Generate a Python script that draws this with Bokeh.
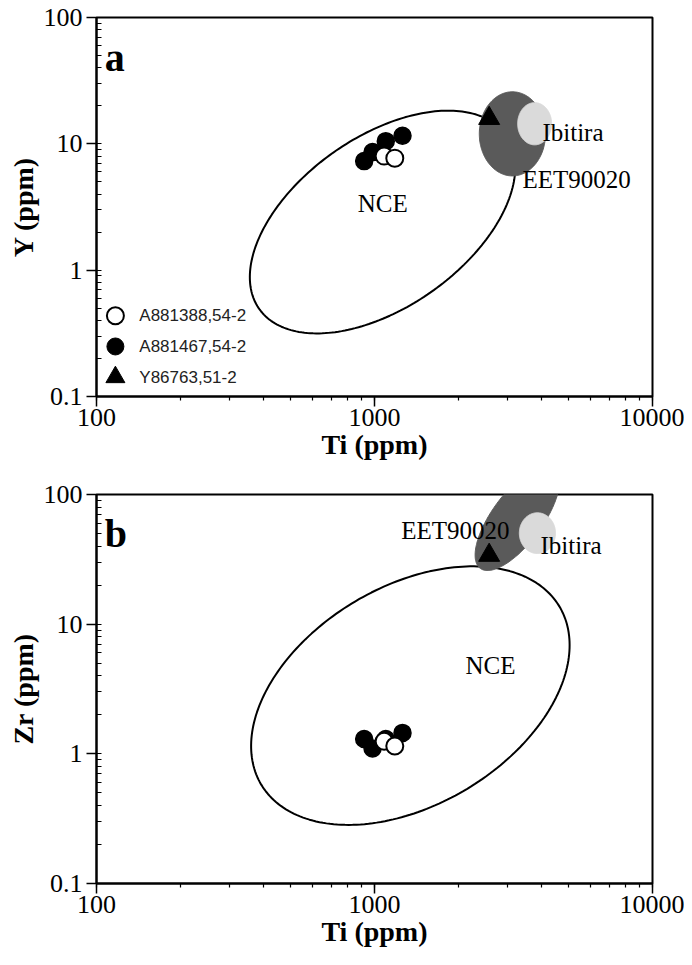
import numpy as np
from bokeh.plotting import figure
from bokeh.layouts import column
from bokeh.models import Label, CustomJSTickFormatter, Range1d, LinearScale
from bokeh.core.properties import value
from bokeh.embed import file_html
from bokeh.resources import INLINE

# ---------------- data ----------------
ti_A881388 = [1083, 1183]
ti_A881467 = [918, 984, 1098, 1261]
ti_Y86763 = [2585]

y_A881388 = [8.0, 7.7]
y_A881467 = [7.3, 8.6, 10.5, 11.6]
y_Y86763 = [15.9]

zr_A881388 = [1.25, 1.15]
zr_A881467 = [1.3, 1.1, 1.3, 1.45]
zr_Y86763 = [34]

legend_labels = ["A881388,54-2", "A881467,54-2", "Y86763,51-2"]

# compositional fields: centre and two conjugate half-axes, in log10 units (Ti, Y or Zr)
nce_a = dict(c=(3.029, 0.381), a1=(0.444, 0.687), a2=(0.1755, -0.5525))
eet_a = dict(c=(3.496, 1.079), a1=(0.119, 0.0), a2=(0.0, 0.333))
ibi_a = dict(c=(3.576, 1.159), a1=(0.061, 0.0), a2=(0.0, 0.167))
nce_b = dict(c=(3.129, 0.449), a1=(0.539, 0.677), a2=(0.194, -0.732))
eet_b = dict(c=(3.514, 1.819), a1=(0.134, 0.388), a2=(0.072, -0.117))
ibi_b = dict(c=(3.586, 1.702), a1=(0.065, 0.0), a2=(0.0, 0.157))

# field label anchors (Ti, Y/Zr)
labels_a = [("NCE", 1070, 3.4, "center", "middle"),
            ("Ibitira", 4018, 12.4, "left", "alphabetic"),
            ("EET90020", 3404, 5.18, "left", "alphabetic"),
            ]
labels_b = [("NCE", 2612, 4.8, "center", "middle"),
            ("Ibitira", 3954, 40.6, "left", "alphabetic"),
            ("EET90020", 3062, 53, "right", "alphabetic"),
            ]

SERIF = "Liberation Serif"
SANS = "Liberation Sans"
DARK = "#5a5a5a"
LIGHT = "#dadada"


def field(f, n=240):
    t = np.linspace(0, 2 * np.pi, n)
    lx = f["c"][0] + f["a1"][0] * np.cos(t) + f["a2"][0] * np.sin(t)
    ly = f["c"][1] + f["a1"][1] * np.cos(t) + f["a2"][1] * np.sin(t)
    return 10 ** lx, 10 ** ly


fmt = CustomJSTickFormatter(code="return parseFloat(tick.toPrecision(6)).toString();")


def make_panel(ylabel, yvals, fields, labels, letter, height, top, letter_y):
    p = figure(width=684, height=height, x_axis_type="log", y_axis_type="log",
               x_range=(100, 10000), y_range=(0.1, 100),
               output_backend="svg", toolbar_location=None,
               min_border_left=96, min_border_right=32, min_border_top=top,
               min_border_bottom=0)
    p.grid.visible = False
    p.outline_line_color = "black"
    p.outline_line_width = 2
    p.background_fill_color = "white"
    p.border_fill_color = "white"

    for ax in (p.xaxis[0], p.yaxis[0]):
        ax.formatter = fmt
        ax.axis_line_width = 2
        ax.axis_line_color = "black"
        ax.major_tick_line_color = "black"
        ax.minor_tick_line_color = "black"
        ax.major_tick_line_width = 1.5
        ax.minor_tick_line_width = 1.2
        ax.major_label_text_font = SERIF
        ax.major_label_text_font_size = "26px"
        ax.major_label_text_color = "black"
        ax.axis_label_text_font = SERIF
        ax.axis_label_text_font_size = "28px"
        ax.axis_label_text_font_style = "bold"
        ax.axis_label_text_color = "black"
        ax.major_tick_out = 10
        ax.major_tick_in = 0
    p.xaxis.minor_tick_out = 4
    p.xaxis.minor_tick_in = 0
    p.yaxis.minor_tick_out = 0
    p.yaxis.minor_tick_in = 5
    p.xaxis.major_label_standoff = 2
    p.yaxis.major_label_standoff = 4
    p.xaxis.axis_label_standoff = 0
    p.yaxis.axis_label_standoff = 2
    p.xaxis.axis_label = "Ti (ppm)"
    p.yaxis.axis_label = ylabel

    nce, eet, ibi = fields
    xs, ys = field(nce)
    p.line(xs, ys, line_color="black", line_width=2)
    xs, ys = field(eet)
    p.patch(xs, ys, fill_color=DARK, line_color=DARK, line_width=1)
    xs, ys = field(ibi)
    p.patch(xs, ys, fill_color=LIGHT, line_color=LIGHT, line_width=1)

    y1, y2, y3 = yvals
    p.scatter(ti_Y86763, y3, marker="triangle", size=21,
              fill_color="black", line_color="black")
    p.scatter(ti_A881467, y2, marker="circle", size=17,
              fill_color="black", line_color="black", line_width=1.5)
    p.scatter(ti_A881388, y1, marker="circle", size=17,
              fill_color="white", line_color="black", line_width=2)

    for txt, x, y, al, bl in labels:
        p.add_layout(Label(x=x, y=y, text=txt, text_font=SERIF, text_font_size="25px",
                           text_align=al, text_baseline=bl, text_color="black"))
    p.add_layout(Label(x=107, y=letter_y, text=letter, text_font=SERIF,
                       text_font_size="40px", text_font_style="bold",
                       text_align="left", text_baseline="alphabetic", text_color="black"))
    return p


pa = make_panel("Y (ppm)", (y_A881388, y_A881467, y_Y86763),
                (nce_a, eet_a, ibi_a), labels_a, "a", 462, 17, 48)
pb = make_panel("Zr (ppm)", (zr_A881388, zr_A881467, zr_Y86763),
                (nce_b, eet_b, ibi_b), labels_b, "b", 487, 32, 50)

# key (legend) drawn in frame-fraction coordinates
pa.extra_x_ranges = {"fx": Range1d(0, 1)}
pa.extra_x_scales = {"fx": LinearScale()}
pa.extra_y_ranges = {"fy": Range1d(0, 1)}
pa.extra_y_scales = {"fy": LinearScale()}
key_mx, key_tx = 0.034, 0.077
key_rows = [0.213, 0.132, 0.051]
pa.scatter([key_mx], [key_rows[0]], marker="circle", size=17, fill_color="white",
           line_color="black", line_width=2, x_range_name="fx", y_range_name="fy")
pa.scatter([key_mx], [key_rows[1]], marker="circle", size=17, fill_color="black",
           line_color="black", x_range_name="fx", y_range_name="fy")
pa.scatter([key_mx], [key_rows[2]], marker="triangle", size=19, fill_color="black",
           line_color="black", x_range_name="fx", y_range_name="fy")
pa.text([key_tx] * 3, key_rows, text=legend_labels, text_font=value(SANS),
        text_font_size="17px", text_color="#222222", text_baseline="middle",
        text_align="left", x_range_name="fx", y_range_name="fy")

layout = column(pa, pb, spacing=0)
open("out.html", "w").write(file_html(layout, INLINE))
